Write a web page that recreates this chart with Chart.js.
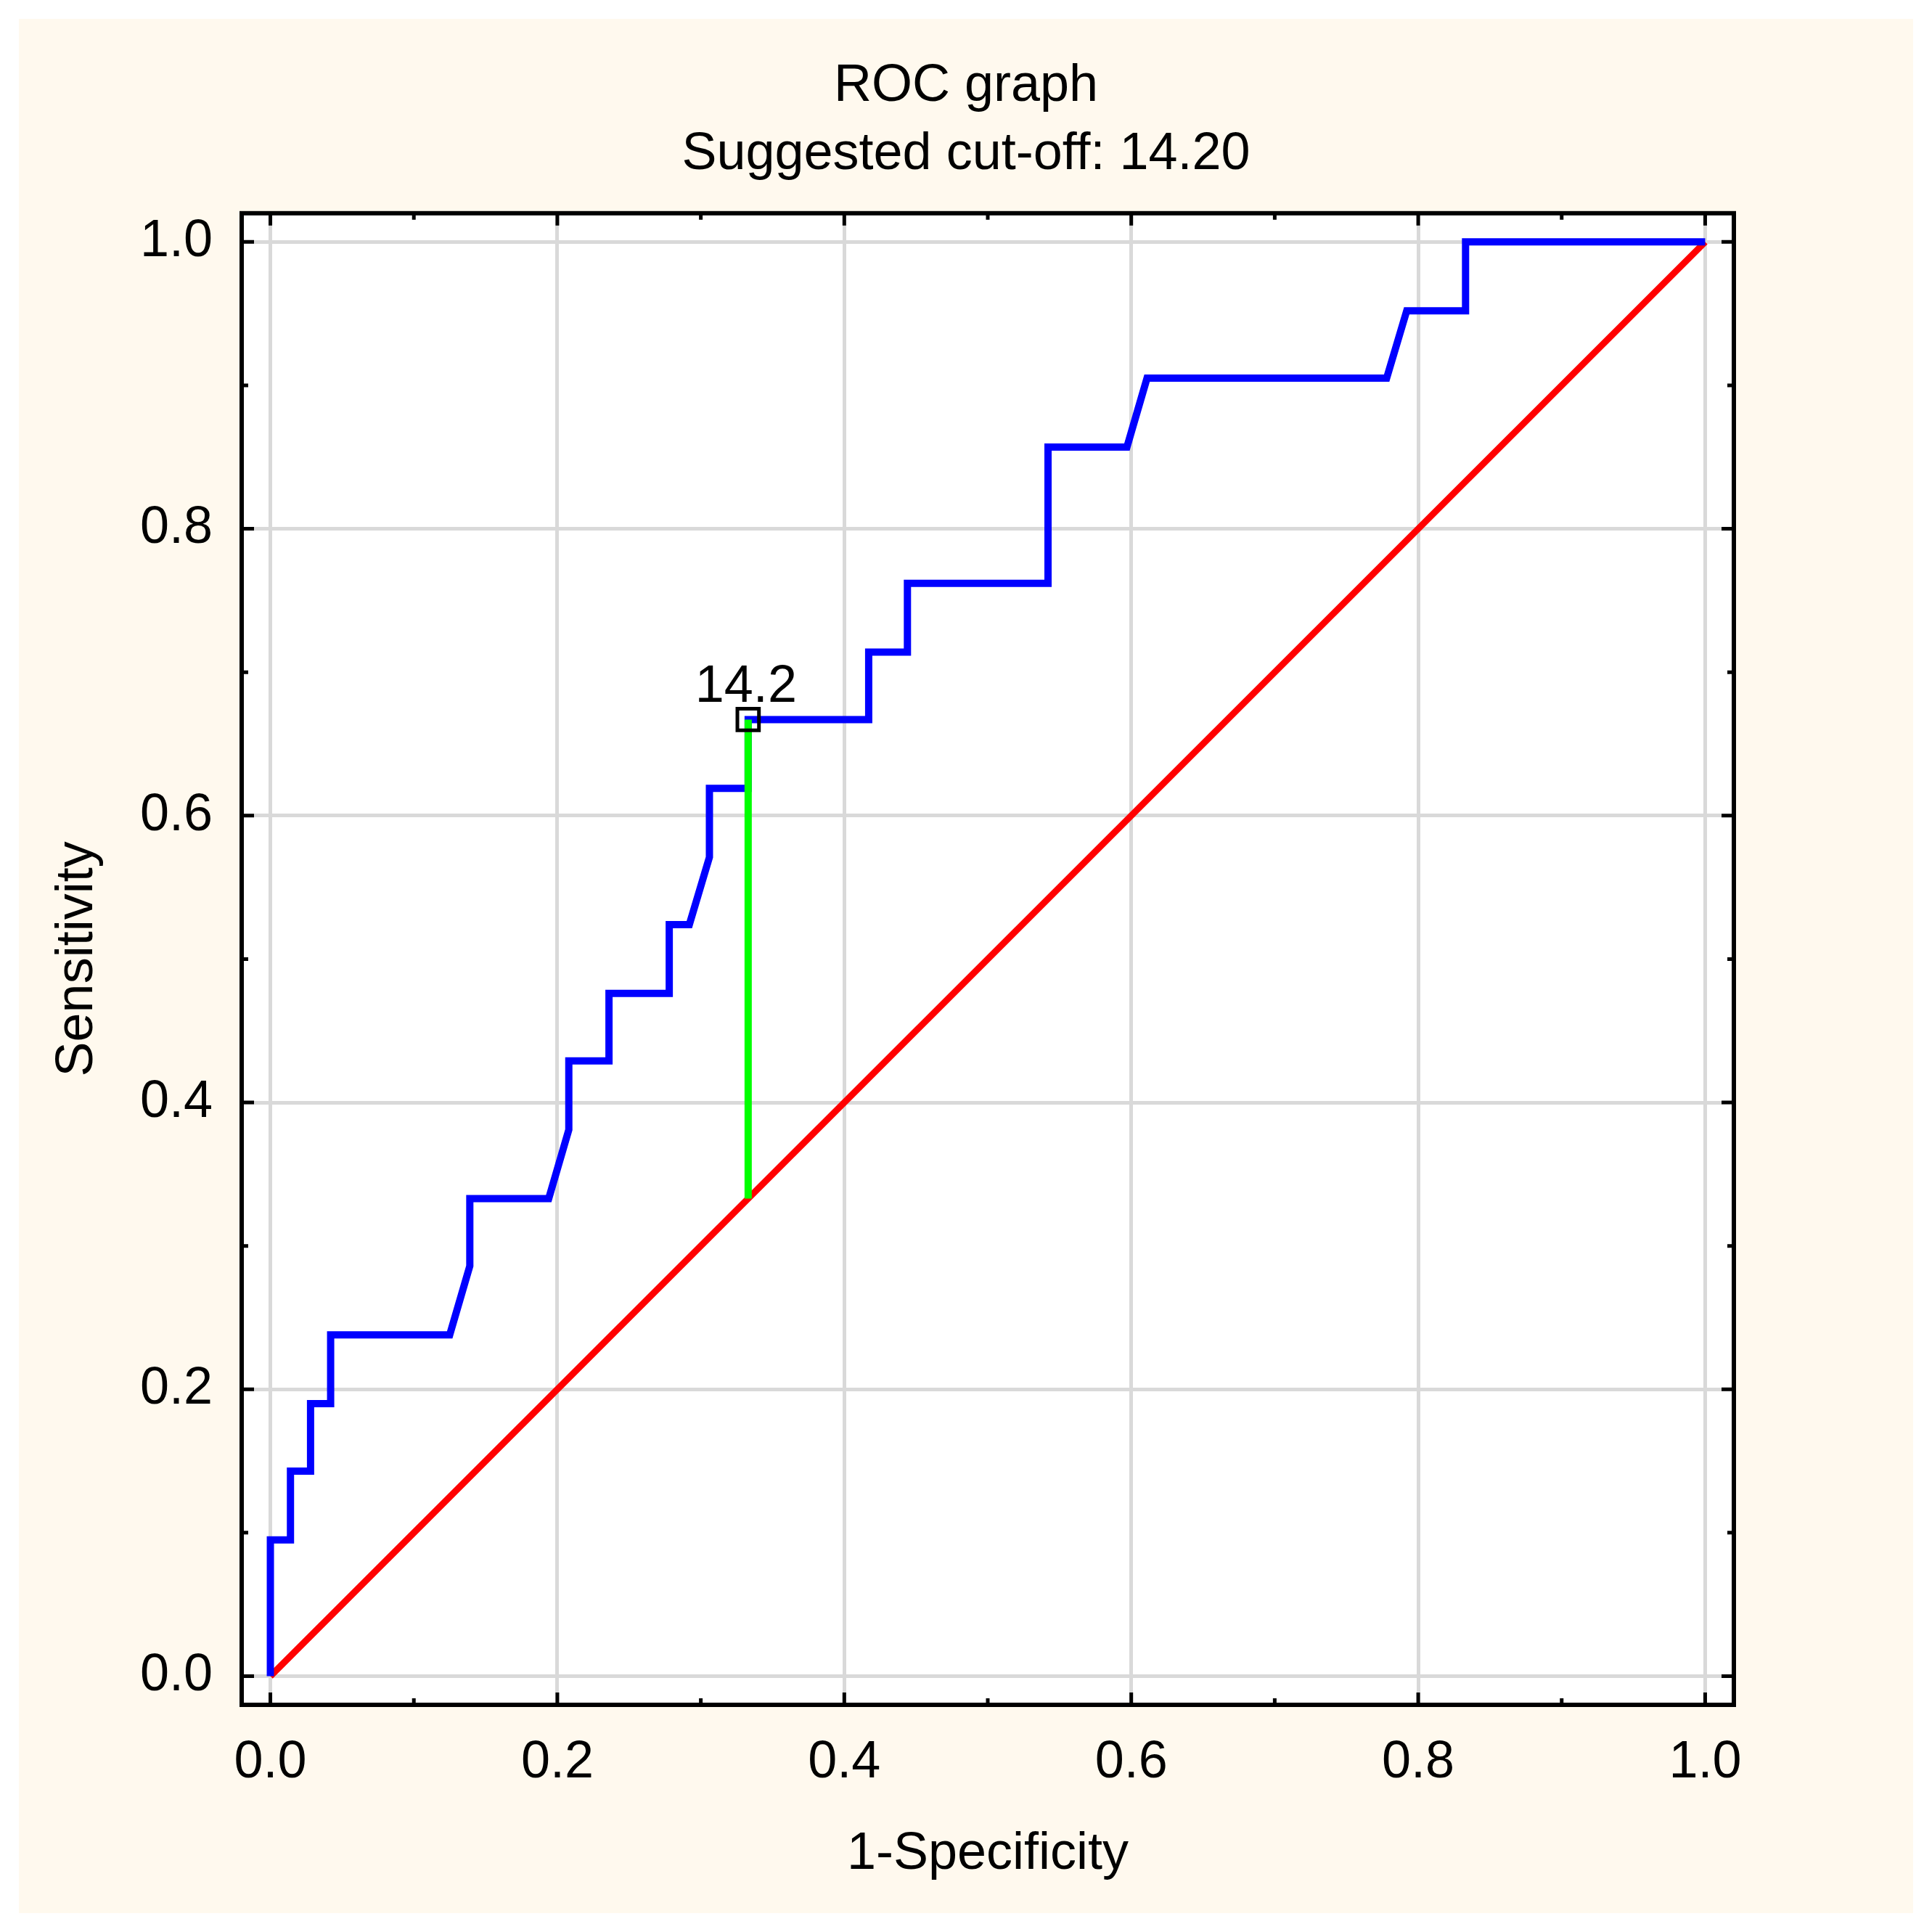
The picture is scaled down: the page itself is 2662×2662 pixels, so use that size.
<!DOCTYPE html>
<html>
<head>
<meta charset="utf-8">
<title>ROC graph</title>
<script src="https://cdn.jsdelivr.net/npm/chart.js@4.4.1/dist/chart.umd.min.js"></script>
<style>
  html, body { margin: 0; padding: 0; background: #ffffff; }
  canvas { display: block; }
</style>
</head>
<body>
<canvas id="roc" width="2662" height="2662"></canvas>
<script>
// ROC curve (1-specificity, sensitivity)
var fpr = [0, 0, 0.014, 0.014, 0.028, 0.028, 0.042, 0.042, 0.125, 0.139, 0.139, 0.194, 0.208, 0.208,
  0.236, 0.236, 0.278, 0.278, 0.292, 0.306, 0.306, 0.333, 0.333, 0.417, 0.417, 0.444, 0.444,
  0.542, 0.542, 0.597, 0.611, 0.778, 0.792, 0.833, 0.833, 1];
var tpr = [0, 0.095, 0.095, 0.143, 0.143, 0.190, 0.190, 0.238, 0.238, 0.286, 0.333, 0.333, 0.381, 0.429,
  0.429, 0.476, 0.476, 0.524, 0.524, 0.571, 0.619, 0.619, 0.667, 0.667, 0.714, 0.714, 0.762,
  0.762, 0.857, 0.857, 0.905, 0.905, 0.952, 0.952, 1, 1];

// reference diagonal
var diagX = [0, 1];
var diagY = [0, 1];

// suggested cut-off
var cutLabel = '14.2';
var cutX = [0.333, 0.333];
var cutY = [0.333, 0.667];

var titleText = 'ROC graph';
var subtitleText = 'Suggested cut-off: 14.20';
var xTitle = '1-Specificity';
var yTitle = 'Sensitivity';

function pairs(xs, ys) {
  var out = [];
  for (var i = 0; i < xs.length; i++) {
    out.push({ x: xs[i], y: ys[i] });
  }
  return out;
}

function isMajor(v) {
  return Math.round(v * 10) % 2 === 0;
}

var FONT = 'Liberation Sans, Arial, sans-serif';

// cream page, white plot area
var backdrop = {
  id: 'backdrop',
  beforeDraw: function(chart) {
    var ctx = chart.ctx;
    var a = chart.chartArea;
    ctx.save();
    ctx.fillStyle = '#ffffff';
    ctx.fillRect(0, 0, chart.width, chart.height);
    ctx.fillStyle = '#fff9ee';
    ctx.fillRect(26, 26, chart.width - 52, chart.height - 52);
    ctx.fillStyle = '#ffffff';
    ctx.fillRect(a.left, a.top, a.right - a.left, a.bottom - a.top);
    ctx.restore();
  }
};

// frame with inner tick marks on all four sides, plus the cut-off label
var frame = {
  id: 'frame',
  afterDraw: function(chart) {
    var ctx = chart.ctx;
    var a = chart.chartArea;
    var xs = chart.scales.x;
    var ys = chart.scales.y;
    ctx.save();
    ctx.strokeStyle = '#000000';
    ctx.lineWidth = 5;
    ctx.beginPath();
    xs.ticks.forEach(function(t) {
      var p = xs.getPixelForValue(t.value);
      var len = isMajor(t.value) ? 17 : 9;
      ctx.moveTo(p, a.bottom); ctx.lineTo(p, a.bottom - len);
      ctx.moveTo(p, a.top); ctx.lineTo(p, a.top + len);
    });
    ys.ticks.forEach(function(t) {
      var p = ys.getPixelForValue(t.value);
      var len = isMajor(t.value) ? 17 : 9;
      ctx.moveTo(a.left, p); ctx.lineTo(a.left + len, p);
      ctx.moveTo(a.right, p); ctx.lineTo(a.right - len, p);
    });
    ctx.stroke();

    ctx.lineWidth = 6;
    ctx.strokeRect(a.left, a.top, a.right - a.left, a.bottom - a.top);

    var px = xs.getPixelForValue(cutX[1]);
    var py = ys.getPixelForValue(cutY[1]);
    ctx.fillStyle = '#000000';
    ctx.font = '72px ' + FONT;
    ctx.textAlign = 'center';
    ctx.textBaseline = 'alphabetic';
    ctx.fillText(cutLabel, px - 3, py - 24);
    ctx.restore();
  }
};

var ctx = document.getElementById('roc');

var rocChart = new Chart(ctx, {
  type: 'scatter',
  data: {
    datasets: [
      {
        label: 'diagonal',
        data: pairs(diagX, diagY),
        showLine: true,
        borderColor: '#ff0000',
        borderWidth: 9,
        pointRadius: 0,
        order: 4
      },
      {
        label: 'ROC',
        data: pairs(fpr, tpr),
        showLine: true,
        borderColor: '#0000ff',
        borderWidth: 10,
        borderJoinStyle: 'miter',
        pointRadius: 0,
        tension: 0,
        order: 3
      },
      {
        label: 'cut-off',
        data: pairs(cutX, cutY),
        showLine: true,
        borderColor: '#00ff00',
        borderWidth: 10,
        pointRadius: 0,
        order: 2
      },
      {
        label: 'cut-off point',
        data: [{ x: cutX[1], y: cutY[1] }],
        showLine: false,
        pointStyle: 'rect',
        pointRadius: 21,
        pointBorderWidth: 5,
        pointBorderColor: '#000000',
        pointBackgroundColor: 'rgba(0,0,0,0)',
        order: 1
      }
    ]
  },
  options: {
    responsive: false,
    devicePixelRatio: 1,
    animation: false,
    events: [],
    layout: { padding: 0 },
    plugins: {
      legend: { display: false },
      tooltip: { enabled: false },
      title: {
        display: true,
        text: titleText,
        color: '#000000',
        font: { family: FONT, size: 72, weight: 'normal', lineHeight: 1.2 },
        padding: { top: 76, bottom: 4 }
      },
      subtitle: {
        display: true,
        text: subtitleText,
        color: '#000000',
        font: { family: FONT, size: 72, weight: 'normal', lineHeight: 1.2 },
        padding: { top: 4, bottom: 37 }
      }
    },
    scales: {
      x: {
        type: 'linear',
        position: 'bottom',
        min: -0.02,
        max: 1.02,
        afterFit: function(s) { s.height = 313; },
        border: { display: false },
        grid: {
          drawTicks: false,
          lineWidth: 5,
          color: function(c) { return c.tick && isMajor(c.tick.value) ? '#d9d9d9' : 'rgba(0,0,0,0)'; }
        },
        ticks: {
          stepSize: 0.1,
          includeBounds: false,
          autoSkip: false,
          maxRotation: 0,
          padding: 37,
          color: '#000000',
          font: { family: FONT, size: 72, lineHeight: 1.2 },
          callback: function(v) { return isMajor(v) ? v.toFixed(1) : ''; }
        },
        title: {
          display: true,
          text: xTitle,
          color: '#000000',
          font: { family: FONT, size: 72, lineHeight: 1.2 },
          padding: { top: 0, bottom: 64 }
        }
      },
      y: {
        type: 'linear',
        position: 'left',
        min: -0.02,
        max: 1.02,
        afterFit: function(s) { s.width = 333; },
        border: { display: false },
        grid: {
          drawTicks: false,
          lineWidth: 5,
          color: function(c) { return c.tick && isMajor(c.tick.value) ? '#d9d9d9' : 'rgba(0,0,0,0)'; }
        },
        ticks: {
          stepSize: 0.1,
          includeBounds: false,
          autoSkip: false,
          padding: 40,
          color: '#000000',
          font: { family: FONT, size: 72, lineHeight: 1.2 },
          callback: function(v) { return isMajor(v) ? v.toFixed(1) : ''; }
        },
        title: {
          display: true,
          text: yTitle,
          color: '#000000',
          font: { family: FONT, size: 72, lineHeight: 1.2 },
          padding: { top: 64, bottom: 0 }
        }
      },
      yr: {
        type: 'linear',
        axis: 'y',
        position: 'right',
        afterFit: function(s) { s.width = 273; },
        border: { display: false },
        grid: { display: false, drawTicks: false },
        ticks: { display: false }
      }
    }
  },
  plugins: [backdrop, frame]
});
</script>
</body>
</html>
